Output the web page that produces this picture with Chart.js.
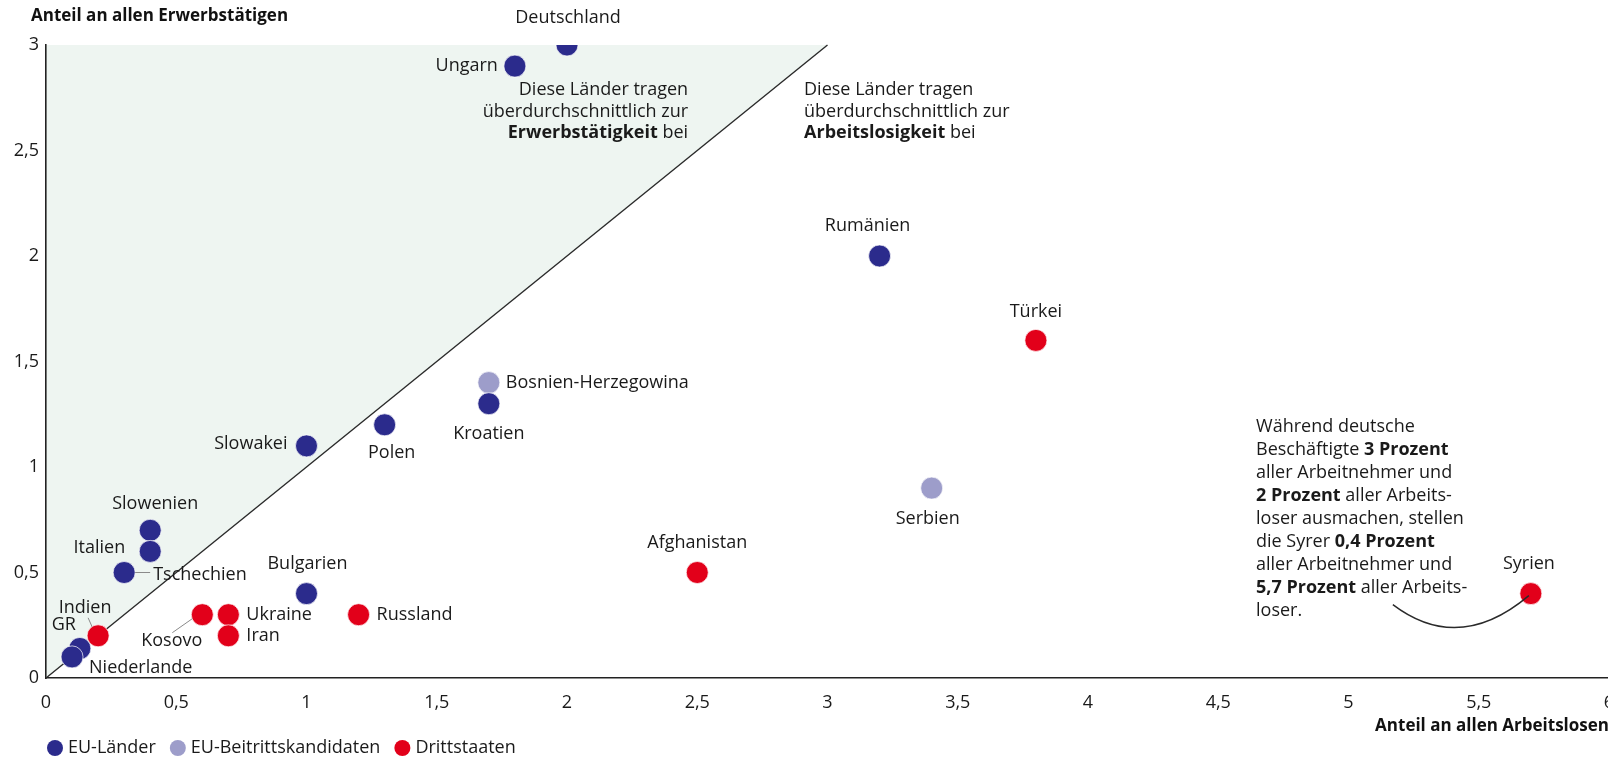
<!DOCTYPE html>
<html lang="de">
<head>
<meta charset="utf-8">
<title>Anteil an allen Erwerbstätigen und Arbeitslosen</title>
<script src="https://cdn.jsdelivr.net/npm/chart.js@4.4.1/dist/chart.umd.min.js"></script>
<style>
  html, body { margin: 0; padding: 0; background: #fff; overflow: hidden; }
  /* the original graphic is cropped at the right edge, so the chart runs slightly past the window */
  #wrap { width: 1621px; height: 762px; position: relative; }
</style>
</head>
<body>
<div id="wrap"><canvas id="chart"></canvas></div>
<script>
// x = Anteil an allen Arbeitslosen, y = Anteil an allen Erwerbstätigen (Prozent)
const euNames = ['Deutschland', 'Ungarn', 'Rumänien', 'Kroatien', 'Polen', 'Slowakei',
  'Slowenien', 'Italien', 'Tschechien', 'Bulgarien', 'GR', 'Niederlande'];
const euUnemployed = [2.0, 1.8, 3.2, 1.7, 1.3, 1.0, 0.4, 0.4, 0.3, 1.0, 0.13, 0.1];
const euEmployed = [3.0, 2.9, 2.0, 1.3, 1.2, 1.1, 0.7, 0.6, 0.5, 0.4, 0.14, 0.1];

const candNames = ['Bosnien-Herzegowina', 'Serbien'];
const candUnemployed = [1.7, 3.4];
const candEmployed = [1.4, 0.9];

const thirdNames = ['Türkei', 'Afghanistan', 'Syrien', 'Kosovo', 'Ukraine', 'Iran', 'Russland', 'Indien'];
const thirdUnemployed = [3.8, 2.5, 5.7, 0.6, 0.7, 0.7, 1.2, 0.2];
const thirdEmployed = [1.6, 0.5, 0.4, 0.3, 0.3, 0.2, 0.3, 0.2];

const groupLabels = ['EU-Länder', 'EU-Beitrittskandidaten', 'Drittstaaten'];
const xTickValues = [0, 0.5, 1, 1.5, 2, 2.5, 3, 3.5, 4, 4.5, 5, 5.5, 6];
const yTickValues = [0, 0.5, 1, 1.5, 2, 2.5, 3];
const xTitle = 'Anteil an allen Arbeitslosen';
const yTitle = 'Anteil an allen Erwerbstätigen';

const leftNote = ['Diese Länder tragen', 'überdurchschnittlich zur', '**Erwerbstätigkeit** bei'];
const rightNote = ['Diese Länder tragen', 'überdurchschnittlich zur', '**Arbeitslosigkeit** bei'];
const syriaNote = [
  'Während deutsche',
  'Beschäftigte **3 Prozent**',
  'aller Arbeitnehmer und',
  '**2 Prozent** aller Arbeits-',
  'loser ausmachen, stellen',
  'die Syrer **0,4 Prozent**',
  'aller Arbeitnehmer und',
  '**5,7 Prozent** aller Arbeits-',
  'loser.'
];

// label placement relative to the dot (pixels)
const labelLayout = {
  'Deutschland': { dx: 1, dy: -27, align: 'center' },
  'Ungarn': { dx: -17, dy: 0, align: 'right' },
  'Rumänien': { dx: -12, dy: -30, align: 'center' },
  'Türkei': { dx: 0, dy: -29, align: 'center' },
  'Bosnien-Herzegowina': { dx: 17, dy: 0, align: 'left' },
  'Kroatien': { dx: 0, dy: 30, align: 'center' },
  'Polen': { dx: 7, dy: 28, align: 'center' },
  'Slowakei': { dx: -19, dy: -2, align: 'right' },
  'Serbien': { dx: -4, dy: 31, align: 'center' },
  'Slowenien': { dx: 5, dy: -26, align: 'center' },
  'Italien': { dx: -25, dy: -4, align: 'right' },
  'Tschechien': { dx: 29, dy: 2, align: 'left', leader: [11, 0, 26, 0] },
  'Afghanistan': { dx: 0, dy: -30, align: 'center' },
  'Bulgarien': { dx: 1, dy: -30, align: 'center' },
  'Syrien': { dx: -2, dy: -30, align: 'center' },
  'Kosovo': { dx: 0, dy: 26, align: 'right', leader: [-30, 18, -10, 4] },
  'Ukraine': { dx: 18, dy: 0, align: 'left' },
  'Iran': { dx: 18, dy: 0, align: 'left' },
  'Russland': { dx: 18, dy: 0, align: 'left' },
  'Indien': { dx: -13, dy: -28, align: 'center', leader: [-10, -18, -6, -9] },
  'GR': { dx: -16, dy: -24, align: 'center' },
  'Niederlande': { dx: 17, dy: 11, align: 'left' }
};

const FONT = "'Open Sans', 'Noto Sans', sans-serif";
const SIZE = 18;
const TEXT = '#1a1a1a';

function fmt(v) { return String(v).replace('.', ','); }
function pts(xs, ys) { return xs.map((x, i) => ({ x, y: ys[i] })); }

function drawRich(ctx, line, x, y, align) {
  const parts = line.split('**');
  const widths = parts.map((p, i) => {
    ctx.font = (i % 2 ? 'bold ' : '') + SIZE + 'px ' + FONT;
    return ctx.measureText(p).width;
  });
  const total = widths.reduce((a, b) => a + b, 0);
  let cx = align === 'right' ? x - total : align === 'center' ? x - total / 2 : x;
  ctx.textAlign = 'left';
  parts.forEach((p, i) => {
    ctx.font = (i % 2 ? 'bold ' : '') + SIZE + 'px ' + FONT;
    ctx.fillText(p, cx, y);
    cx += widths[i];
  });
}

const backdrop = {
  id: 'backdrop',
  beforeDraw(chart) {
    const { ctx, scales: { x, y } } = chart;
    ctx.save();
    ctx.fillStyle = '#eef5f1';
    ctx.beginPath();
    ctx.moveTo(x.getPixelForValue(0), y.getPixelForValue(0));
    ctx.lineTo(x.getPixelForValue(0), y.getPixelForValue(3));
    ctx.lineTo(x.getPixelForValue(3), y.getPixelForValue(3));
    ctx.closePath();
    ctx.fill();
    ctx.restore();
  },
  beforeDatasetsDraw(chart) {
    const { ctx, scales: { x, y } } = chart;
    ctx.save();
    ctx.strokeStyle = '#2a2a2a';
    ctx.lineWidth = 1.4;
    ctx.beginPath();
    ctx.moveTo(x.getPixelForValue(0), y.getPixelForValue(0));
    ctx.lineTo(x.getPixelForValue(3), y.getPixelForValue(3));
    ctx.stroke();
    ctx.restore();
  }
};

const annotations = {
  id: 'annotations',
  afterDatasetsDraw(chart) {
    const { ctx, scales: { x, y } } = chart;
    ctx.save();
    ctx.fillStyle = TEXT;
    ctx.textBaseline = 'middle';

    // point labels
    chart.data.datasets.forEach((ds, di) => {
      const meta = chart.getDatasetMeta(di);
      meta.data.forEach((el, i) => {
        const name = ds.names[i];
        const lay = labelLayout[name] || { dx: 0, dy: -26, align: 'center' };
        if (lay.leader) {
          const [x1, y1, x2, y2] = lay.leader;
          ctx.strokeStyle = '#8a8a8a';
          ctx.lineWidth = 1;
          ctx.beginPath();
          ctx.moveTo(el.x + x1, el.y + y1);
          ctx.lineTo(el.x + x2, el.y + y2);
          ctx.stroke();
        }
        ctx.font = SIZE + 'px ' + FONT;
        ctx.textAlign = lay.align;
        ctx.fillText(name, el.x + lay.dx, el.y + lay.dy);
      });
    });

    // region notes
    leftNote.forEach((l, i) => drawRich(ctx, l, x.getPixelForValue(2.465), y.getPixelForValue(2.785) + i * 21.5, 'right'));
    rightNote.forEach((l, i) => drawRich(ctx, l, x.getPixelForValue(2.91), y.getPixelForValue(2.785) + i * 21.5, 'left'));
    syriaNote.forEach((l, i) => drawRich(ctx, l, x.getPixelForValue(4.645), y.getPixelForValue(1.19) + i * 23, 'left'));

    // connector to Syrien
    const sIdx = thirdNames.indexOf('Syrien');
    const sx = x.getPixelForValue(thirdUnemployed[sIdx]);
    const sy = y.getPixelForValue(thirdEmployed[sIdx]);
    ctx.strokeStyle = '#2a2a2a';
    ctx.lineWidth = 1.4;
    ctx.beginPath();
    ctx.moveTo(sx - 138, sy + 11);
    ctx.quadraticCurveTo(sx - 72, sy + 61, sx - 2, sy + 2);
    ctx.stroke();

    ctx.restore();
  },
  afterDraw(chart) {
    const { ctx, chartArea } = chart;
    ctx.save();
    ctx.textBaseline = 'middle';
    ctx.textAlign = 'left';
    ctx.fillStyle = '#111';

    // y axis title, horizontal above the axis
    ctx.font = 'bold 17px ' + FONT;
    ctx.fillText(yTitle, chartArea.left - 15, 16);

    // legend row
    ctx.font = SIZE + 'px ' + FONT;
    let cx = chartArea.left + 9;
    const cy = 748;
    chart.data.datasets.forEach(ds => {
      ctx.fillStyle = ds.backgroundColor;
      ctx.beginPath();
      ctx.arc(cx, cy, 8, 0, Math.PI * 2);
      ctx.fill();
      ctx.fillStyle = TEXT;
      ctx.fillText(ds.label, cx + 13, cy);
      cx += 13 + ctx.measureText(ds.label).width + 22;
    });
    ctx.restore();
  }
};

new Chart(document.getElementById('chart'), {
  type: 'scatter',
  data: {
    datasets: [
      { label: groupLabels[0], names: euNames, data: pts(euUnemployed, euEmployed), backgroundColor: '#2b2b8c' },
      { label: groupLabels[1], names: candNames, data: pts(candUnemployed, candEmployed), backgroundColor: '#9d9dca' },
      { label: groupLabels[2], names: thirdNames, data: pts(thirdUnemployed, thirdEmployed), backgroundColor: '#e2001a' }
    ].map(ds => Object.assign(ds, { pointRadius: 11, pointHoverRadius: 11, borderColor: 'rgba(255,255,255,0.7)', borderWidth: 1 }))
  },
  options: {
    responsive: true,
    maintainAspectRatio: false,
    animation: false,
    layout: { padding: { left: 0, right: 0, top: 45, bottom: 26 } },
    plugins: {
      legend: { display: false },
      tooltip: { enabled: false }
    },
    scales: {
      x: {
        type: 'linear',
        min: 0,
        max: 6,
        afterBuildTicks(scale) { scale.ticks = xTickValues.map(v => ({ value: v })); },
        afterFit(scale) { scale.height = 58; },
        ticks: { callback: v => fmt(v), color: TEXT, padding: 3, font: { family: FONT, size: SIZE }, maxRotation: 0 },
        grid: { display: false, drawTicks: true, tickLength: 11 },
        border: { display: true, color: '#222', width: 1.6 },
        title: {
          display: true,
          text: xTitle,
          align: 'end',
          color: '#111',
          font: { family: FONT, size: 17, weight: 'bold' },
          padding: { top: 0, bottom: 0 }
        }
      },
      y: {
        type: 'linear',
        min: 0,
        max: 3,
        afterBuildTicks(scale) { scale.ticks = yTickValues.map(v => ({ value: v })); },
        afterFit(scale) { scale.width = 46; },
        ticks: { callback: v => fmt(v), color: TEXT, padding: 7, font: { family: FONT, size: SIZE } },
        grid: { display: false, drawTicks: false },
        border: { display: true, color: '#222', width: 1.6 }
      }
    }
  },
  plugins: [backdrop, annotations]
});
</script>
</body>
</html>
